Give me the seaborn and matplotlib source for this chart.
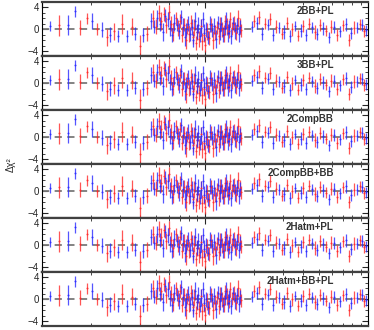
import numpy as np
import pandas as pd
import matplotlib
matplotlib.use("Agg")
import matplotlib.pyplot as plt
import seaborn as sns
from matplotlib.ticker import MultipleLocator, NullFormatter

# noms des modeles (un panneau par modele)
models = ["2BB+PL", "3BB+PL", "2CompBB", "2CompBB+BB", "2Hatm+PL", "2Hatm+BB+PL"]

# residus instrument bleu : basse energie, zone dense, haute energie
blue_x_low = [1.12, 1.45, 1.59, 2.03, 2.33, 2.61, 2.93, 3.32, 3.72, 4.17]
blue_y_low = [0.6, 0.8, 3.3, 1.5, -0.1, -1.0, -1.3, -1.2, -0.8, -1.0]
blue_e_low = [1.0, 1.8, 1.0, 1.5, 1.4, 1.4, 1.1, 1.1, 1.2, 1.3]

blue_x_mid = [4.7, 4.9, 5.1, 5.3, 5.5, 5.7, 5.9, 6.1, 6.3, 6.5, 6.7, 6.9, 7.1, 7.3, 7.5, 7.7,
              7.9, 8.1, 8.3, 8.5, 8.7, 8.9, 9.1, 9.3, 9.5, 9.7, 9.9, 10.2, 10.5, 10.8, 11.1,
              11.4, 11.7, 12.0, 12.3, 12.6, 12.9, 13.2, 13.5, 13.8, 14.1, 14.5, 14.9, 15.3,
              15.7, 16.1, 16.5]
blue_y_mid = [1.5, 0.5, 2.0, 1.0, -0.5, 2.5, 1.8, 0.2, -1.0, 1.2, 0.8, -0.3, 2.2, 0.5, -1.5,
              0.0, 1.0, -0.8, 0.4, -2.0, 1.5, -0.5, 0.8, -1.2, 0.3, 1.8, -0.6, 0.0, -1.5, 1.0,
              -0.2, 0.6, -1.8, 1.2, -0.4, 0.9, -1.0, 0.2, 1.6, -0.7, 0.4, -1.3, 1.1, -0.2, 0.7,
              -0.9, 0.5]
blue_e_mid = [1.4, 1.2, 1.5, 1.3, 1.6, 1.2, 1.4, 1.5, 1.3, 1.6, 1.2, 1.4, 1.3, 1.5, 1.6, 1.2,
              1.4, 1.3, 1.5, 1.2, 1.6, 1.3, 1.4, 1.2, 1.5, 1.3, 1.6, 1.4, 1.2, 1.5, 1.3, 1.4,
              1.6, 1.2, 1.5, 1.3, 1.4, 1.2, 1.5, 1.6, 1.3, 1.4, 1.2, 1.5, 1.3, 1.4, 1.2]

blue_x_high = [19.4, 20.8, 22.4, 24.4, 26.1, 28.5, 30.5, 33.2, 35.7, 38.8, 41.7, 45.3, 48.7,
               53.0, 57.6, 61.8, 67.3, 73.3, 78.7, 85.7, 91.9, 97.2]
blue_y_high = [0.5, 1.2, -0.8, 0.8, -1.0, 0.3, -0.5, -1.2, 0.6, -0.3, -1.0, 0.4, -0.8, 0.2,
               -1.5, 0.5, -0.4, 0.9, -0.6, 0.3, 0.8, -0.2]
blue_e_high = [1.0, 1.1, 1.2, 1.0, 1.1, 1.0, 1.2, 1.1, 1.0, 1.2, 1.1, 1.0, 1.1, 1.2, 1.0, 1.1,
               1.0, 1.2, 1.1, 1.0, 1.1, 1.0]

# residus instrument rouge
red_x_low = [1.27, 1.71, 1.89, 2.17, 2.50, 2.77, 3.10, 3.57, 3.99, 4.41]
red_y_low = [0.7, 0.3, 2.0, 0.0, -1.5, -0.4, 1.0, 0.5, -3.0, -0.8]
red_e_low = [1.9, 1.4, 1.0, 1.1, 1.6, 1.5, 1.8, 1.6, 2.0, 1.4]

red_x_mid = [4.8, 5.0, 5.2, 5.4, 5.6, 5.8, 6.0, 6.2, 6.4, 6.6, 6.8, 7.0, 7.2, 7.4, 7.6, 7.8,
             8.0, 8.2, 8.4, 8.6, 8.8, 9.0, 9.2, 9.4, 9.6, 9.8, 10.05, 10.35, 10.65, 10.95,
             11.25, 11.55, 11.85, 12.15, 12.45, 12.75, 13.05, 13.35, 13.65, 13.95, 14.3,
             14.7, 15.1, 15.5, 15.9, 16.3, 16.7]
red_y_mid = [2.0, 0.5, 3.0, 1.5, 2.8, 0.8, 3.2, 1.0, -0.5, 2.0, 0.2, 1.5, -1.0, 0.8, -2.0,
             0.5, -0.8, 1.2, -1.5, 0.3, -2.5, -0.5, -1.8, 0.6, -2.2, -1.0, -2.8, -0.4, -1.6,
             0.8, -2.0, -0.6, 0.4, -1.2, 1.0, 0.0, -0.8, 1.5, 0.5, -0.3, 1.8, 0.2, 1.0, -0.6,
             2.0, 0.6, -0.2]
red_e_mid = [1.5, 1.3, 1.4, 1.6, 1.2, 1.5, 1.3, 1.4, 1.6, 1.2, 1.5, 1.3, 1.4, 1.2, 1.6, 1.3,
             1.5, 1.4, 1.2, 1.6, 1.3, 1.5, 1.4, 1.2, 1.6, 1.3, 1.4, 1.5, 1.2, 1.3, 1.6, 1.4,
             1.2, 1.5, 1.3, 1.4, 1.6, 1.2, 1.5, 1.3, 1.4, 1.2, 1.5, 1.3, 1.6, 1.4, 1.2]

red_x_high = [20.1, 21.6, 23.4, 25.2, 27.3, 29.5, 31.8, 34.4, 37.2, 40.2, 43.5, 47.0, 50.8,
              55.3, 59.7, 64.5, 70.2, 76.0, 82.1, 88.7, 94.5]
red_y_high = [1.5, 2.2, 1.0, 1.8, 0.5, -0.8, 1.2, 0.0, -1.2, 0.6, 1.0, -0.5, 0.8, -0.3, 0.5,
              -1.0, 0.7, -2.0, 0.3, 0.9, -0.4]
red_e_high = [1.1, 1.2, 1.0, 1.1, 1.2, 1.0, 1.1, 1.2, 1.0, 1.1, 1.0, 1.2, 1.1, 1.0, 1.2, 1.1,
              1.0, 1.1, 1.2, 1.0, 1.1]

blue = pd.DataFrame({"x": blue_x_low + blue_x_mid + blue_x_high,
                     "y": blue_y_low + blue_y_mid + blue_y_high,
                     "e": blue_e_low + blue_e_mid + blue_e_high})
red = pd.DataFrame({"x": red_x_low + red_x_mid + red_x_high,
                    "y": red_y_low + red_y_mid + red_y_high,
                    "e": red_e_low + red_e_mid + red_e_high})

sns.set_style("ticks")
plt.rcParams["font.family"] = ["Liberation Sans", "DejaVu Sans"]

col_red = "#ff2a2a"
col_blue = "#2a2aff"

fig, axes = plt.subplots(6, 1, figsize=(3.74, 3.30), dpi=100, sharex=True)
fig.subplots_adjust(left=0.112, right=0.984, top=0.994, bottom=0.012, hspace=0)

for ax, name in zip(axes, models):
    ax.axhline(0, color="#7a7a7a", ls=(0, (4, 3)), lw=1.3, zorder=1)
    for df, c in [(red, col_red), (blue, col_blue)]:
        ax.errorbar(df["x"], df["y"], yerr=df["e"], fmt="none", ecolor=c,
                    elinewidth=0.9, alpha=0.8, zorder=2)
        sns.scatterplot(data=df, x="x", y="y", ax=ax, s=2, color=c, linewidth=0,
                        alpha=0.9, zorder=3)
    ax.set_xscale("log")
    ax.set_xlim(1, 100)
    ax.set_ylim(-4.9, 5.0)
    ax.set_yticks([-4, 0, 4])
    ax.yaxis.set_minor_locator(MultipleLocator(1))
    ax.xaxis.set_minor_formatter(NullFormatter())
    ax.set_xlabel("")
    ax.set_ylabel("")
    ax.tick_params(which="both", direction="in", top=True, right=True,
                   labelbottom=False, labelsize=7, pad=2)
    ax.tick_params(which="major", length=4, width=0.8)
    ax.tick_params(which="minor", length=2, width=0.6)
    for s in ["top", "bottom"]:
        ax.spines[s].set_linewidth(1.6)
        ax.spines[s].set_color("#404040")
    for s in ["left", "right"]:
        ax.spines[s].set_linewidth(0.8)
        ax.spines[s].set_color("black")
    ax.text(0.895, 0.84, name, transform=ax.transAxes, ha="right", va="center",
            fontsize=7, fontweight="bold", color="#333333")

fig.text(0.03, 0.5, "Δχ²", rotation=90, ha="center", va="center", fontsize=7)

fig.savefig("out.png", dpi=100)
